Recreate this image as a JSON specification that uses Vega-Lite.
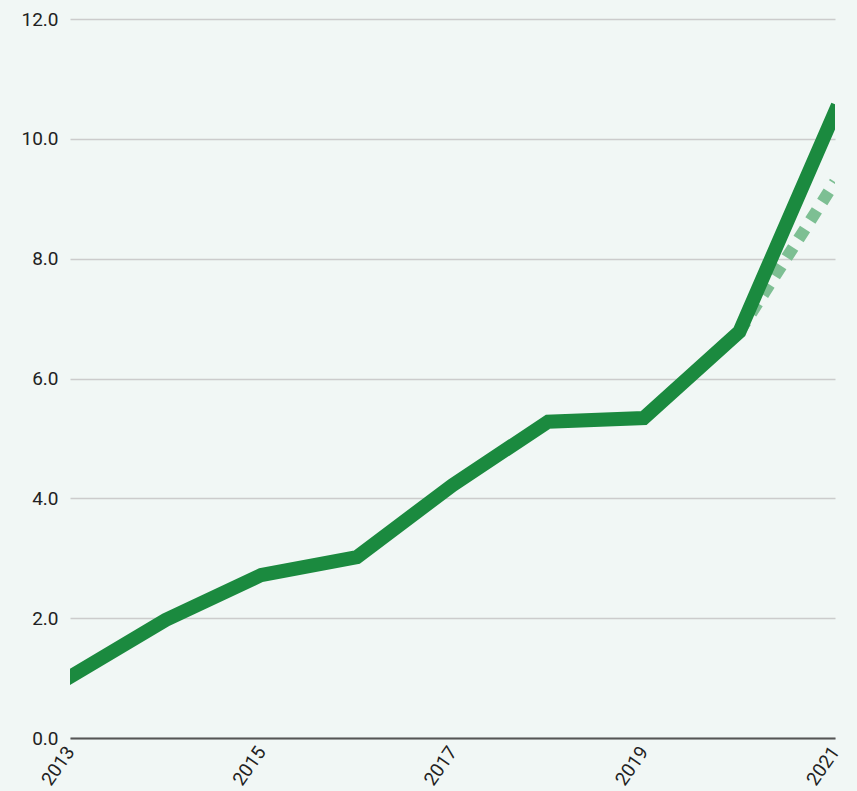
{
  "$schema": "https://vega.github.io/schema/vega-lite/v6.json",
  "width": 765,
  "height": 719,
  "autosize": {"type": "none"},
  "padding": {"left": 70, "top": 19, "right": 22, "bottom": 53},
  "background": "#f1f7f5",
  "config": {
    "view": {"stroke": null},
    "font": "Roboto",
    "axis": {"labelFont": "Roboto", "labelColor": "#222222", "labelFontSize": 19}
  },
  "datasets": {
    "actual": [
      {"year": 2013, "value": 1.02},
      {"year": 2014, "value": 1.97},
      {"year": 2015, "value": 2.72},
      {"year": 2016, "value": 3.02},
      {"year": 2017, "value": 4.22},
      {"year": 2018, "value": 5.28},
      {"year": 2019, "value": 5.34},
      {"year": 2020, "value": 6.78},
      {"year": 2021, "value": 10.45}
    ],
    "projected": [
      {"year": 2020, "value": 6.78},
      {"year": 2021, "value": 9.28}
    ]
  },
  "encoding": {
    "x": {
      "field": "year", "type": "quantitative",
      "scale": {"domain": [2013, 2021], "nice": false, "zero": false},
      "axis": {
        "title": null, "values": [2013, 2015, 2017, 2019, 2021], "format": "d",
        "labelAngle": -55, "grid": false, "ticks": false, "domainColor": "#555555",
        "domainWidth": 2, "labelPadding": 10, "labelFontSize": 19
      }
    },
    "y": {
      "field": "value", "type": "quantitative",
      "scale": {"domain": [0, 12], "nice": false},
      "axis": {
        "title": null, "values": [0, 2, 4, 6, 8, 10, 12], "format": ".1f",
        "domain": false, "ticks": false, "gridColor": "#cccccc", "gridWidth": 1.5,
        "labelPadding": 12
      }
    }
  },
  "layer": [
    {
      "data": {"name": "projected"},
      "mark": {"type": "line", "stroke": "#7dbf93", "strokeWidth": 12, "strokeDash": [12, 10], "clip": true}
    },
    {
      "data": {"name": "actual"},
      "mark": {"type": "line", "stroke": "#1b8a3f", "strokeWidth": 14, "strokeCap": "square", "strokeJoin": "miter", "clip": true}
    }
  ]
}
